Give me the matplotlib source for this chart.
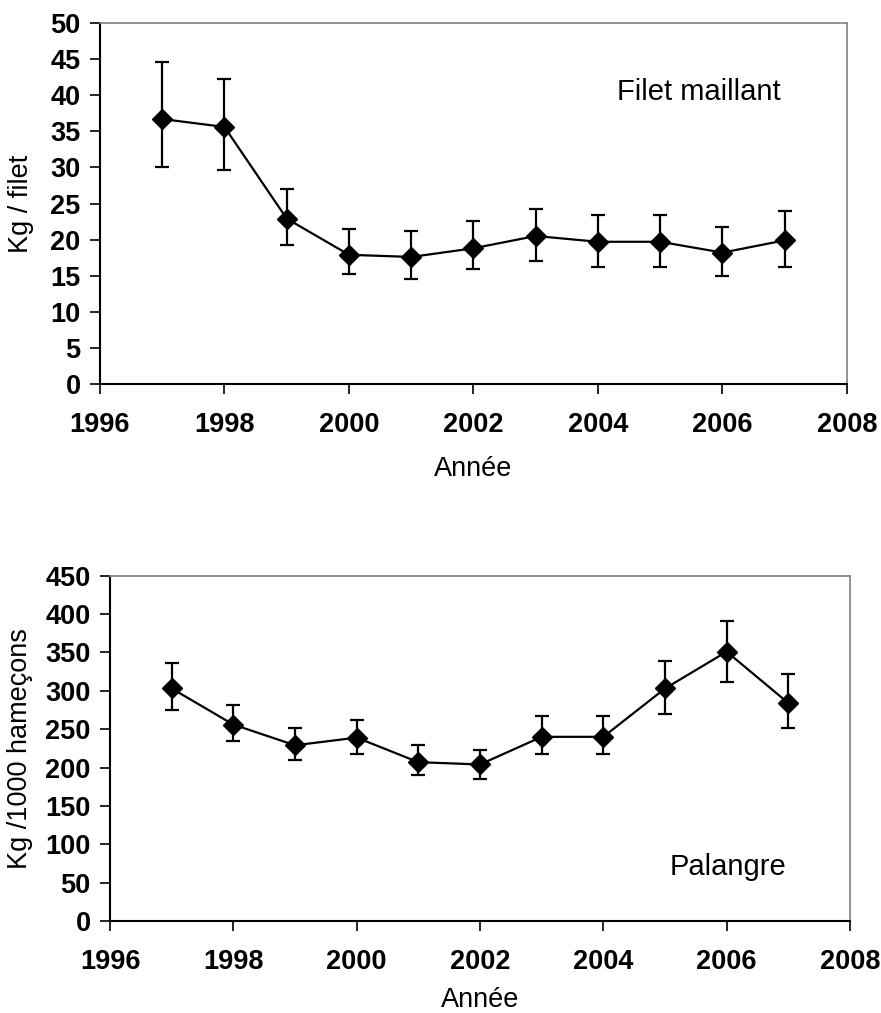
import matplotlib.pyplot as plt

plt.rcParams["font.family"] = ["Liberation Sans", "DejaVu Sans"]

YEARS = [1997, 1998, 1999, 2000, 2001, 2002, 2003, 2004, 2005, 2006, 2007]

# Filet maillant (kg / filet): mean, upper and lower error bar ends
FILET_MEAN = [36.7, 35.6, 22.9, 17.9, 17.6, 18.8, 20.5, 19.7, 19.7, 18.2, 19.9]
FILET_HIGH = [44.6, 42.3, 27.0, 21.5, 21.2, 22.6, 24.3, 23.4, 23.4, 21.7, 24.0]
FILET_LOW = [30.0, 29.6, 19.3, 15.2, 14.6, 15.9, 17.0, 16.2, 16.2, 15.0, 16.2]

# Palangre (kg / 1000 hameçons)
PAL_MEAN = [303, 256, 229, 239, 207, 204, 240, 240, 303, 351, 284]
PAL_HIGH = [336, 281, 251, 262, 229, 223, 267, 267, 339, 391, 322]
PAL_LOW = [275, 234, 210, 218, 190, 185, 218, 218, 270, 311, 251]

XTICKS = [1996, 1998, 2000, 2002, 2004, 2006, 2008]


def draw(ax, mean, high, low, ymax, ystep, ylabel, label, label_xy, xpad):
    yerr = [[m - l for m, l in zip(mean, low)], [h - m for m, h in zip(mean, high)]]
    ax.errorbar(YEARS, mean, yerr=yerr, color="black", linewidth=1.6,
                marker="D", markersize=10, capsize=5, capthick=1.6,
                elinewidth=1.6, clip_on=False)
    ax.set_xlim(1996, 2008)
    ax.set_ylim(0, ymax)
    ax.set_xticks(XTICKS)
    ax.set_yticks(range(0, ymax + 1, ystep))
    for side in ("top", "right"):
        ax.spines[side].set_color("#808080")
        ax.spines[side].set_linewidth(1.2)
    for side in ("left", "bottom"):
        ax.spines[side].set_linewidth(1.5)
    ax.tick_params(axis="x", direction="out", length=7, width=1.2, pad=13,
                   labelsize=19.5)
    ax.tick_params(axis="y", direction="out", length=7, width=1.2, pad=7,
                   labelsize=19.5)
    for t in ax.get_xticklabels() + ax.get_yticklabels():
        t.set_fontweight("bold")
    ax.set_xlabel("Année", fontsize=19.5, labelpad=xpad)
    ax.set_ylabel(ylabel, fontsize=19.5)
    ax.text(label_xy[0], label_xy[1], label, fontsize=21, ha="left", va="center")


fig = plt.figure(figsize=(8.81, 10.13), dpi=100)

ax1 = fig.add_axes([0.1135, 0.6209, 0.8479, 0.3564])
draw(ax1, FILET_MEAN, FILET_HIGH, FILET_LOW, 50, 5, "Kg / filet",
     "Filet maillant", (2004.3, 40.4), 13)
ax1.yaxis.set_label_coords(-0.088, 0.5)

ax2 = fig.add_axes([0.1249, 0.0908, 0.8399, 0.3409])
draw(ax2, PAL_MEAN, PAL_HIGH, PAL_LOW, 450, 50, "Kg /1000 hameçons",
     "Palangre", (2005.08, 71), 9)
ax2.yaxis.set_label_coords(-0.104, 0.5)

fig.savefig("out.png", dpi=100)
